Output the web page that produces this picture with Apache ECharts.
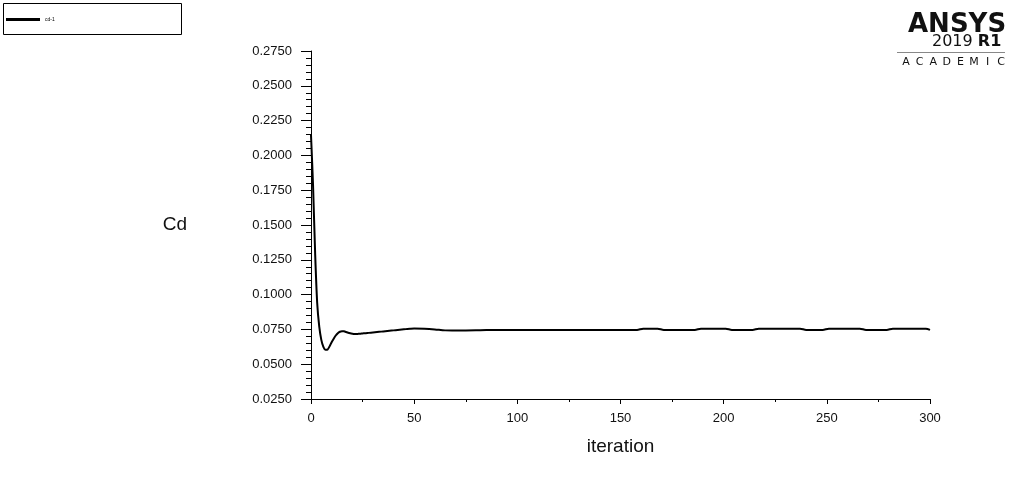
<!DOCTYPE html>
<html><head><meta charset="utf-8">
<script src="https://cdn.jsdelivr.net/npm/echarts@6/dist/echarts.min.js"></script>
<style>html,body{margin:0;padding:0;background:#fff}#c{width:1035px;height:499px}</style>
</head><body><div id="c"></div>
<script>
const seriesName = 'cd-1';
const iterations = [0,1,2,3,4,5,6,7,8,9,10,11,12,13,14,15,16,17,18,19,20,21,22,23,24,25,26,28,30,32,34,36,38,40,42,44,46,48,50,55,60,65,70,75,80,85,90,100,110,120,130,140,150,158,161,168,171,186,189,201,204,214,217,237,240,248,251,266,269,279,282,298,300];
const cdValues = [0.2147,0.178,0.130,0.094,0.077,0.0675,0.0625,0.0603,0.0605,0.0628,0.0658,0.0683,0.0706,0.0723,0.0733,0.0737,0.0736,0.0731,0.0726,0.0722,0.0719,0.0717,0.0717,0.0718,0.0719,0.0721,0.0722,0.0725,0.0728,0.0731,0.0734,0.0737,0.0740,0.0743,0.0746,0.0749,0.0752,0.0755,0.0757,0.0755,0.0750,0.0743,0.0742,0.0742,0.0743,0.0746,0.0746,0.0746,0.0746,0.0746,0.0746,0.0746,0.0746,0.0746,0.0755,0.0755,0.0746,0.0746,0.0755,0.0755,0.0746,0.0746,0.0755,0.0755,0.0746,0.0746,0.0755,0.0755,0.0746,0.0746,0.0755,0.0755,0.0746];
const xTicks = {min:0, max:300, interval:50};
const yTicks = {min:0.025, max:0.275, interval:0.025};
const logoSub = 'ACADEMIC';

const chart = echarts.init(document.getElementById('c'));
const font = 'Liberation Sans, Arial, sans-serif';
const letters = logoSub.split('').map((ch,i)=>({type:'text', x:906 + i*13.6, y:57,
  style:{text:ch, font:'11px "DejaVu Sans", sans-serif', fill:'#111', textAlign:'center', textVerticalAlign:'top'}}));
chart.setOption({
  animation:false,
  backgroundColor:'#fff',
  grid:{left:311, right:105, top:51, bottom:100, containLabel:false},
  legend:{left:1, top:12, itemWidth:34, itemHeight:3, itemGap:2,
    data:[{name:seriesName, icon:'rect'}],
    textStyle:{fontSize:5, color:'#000', fontFamily:font}},
  graphic:[
    {type:'rect', left:1, top:1, shape:{width:178, height:31}, style:{fill:'none', stroke:'#000', lineWidth:1}, silent:true},
    {type:'text', left:908, top:12, style:{text:'ANSYS', font:'bold 26px "DejaVu Sans", sans-serif', fill:'#111'}},
    {type:'text', left:932, top:34, style:{text:'{a|2019 }{b|R1}', rich:{
      a:{font:'16px "DejaVu Sans", sans-serif', fill:'#111', color:'#111'},
      b:{font:'bold 16px "DejaVu Sans", sans-serif', fill:'#111', color:'#111'}}}},
    {type:'rect', left:897, top:52, shape:{width:108, height:1}, style:{fill:'#888'}},
    ...letters
  ],
  xAxis:{type:'value', min:xTicks.min, max:xTicks.max, interval:xTicks.interval,
    name:'iteration', nameLocation:'middle', nameGap:38,
    nameTextStyle:{fontSize:19, color:'#111', fontFamily:font},
    axisLine:{lineStyle:{color:'#000', width:1}},
    axisTick:{length:5, lineStyle:{color:'#000'}},
    minorTick:{show:true, splitNumber:2, length:3, lineStyle:{color:'#000'}},
    axisLabel:{fontSize:13, color:'#111', fontFamily:font, margin:13},
    splitLine:{show:false}},
  yAxis:{type:'value', min:yTicks.min, max:yTicks.max, interval:yTicks.interval,
    name:'Cd', nameLocation:'middle', nameGap:124, nameRotate:0,
    nameTextStyle:{fontSize:19, color:'#111', fontFamily:font},
    axisLine:{show:true, lineStyle:{color:'#000', width:1}},
    axisTick:{show:true, length:10, lineStyle:{color:'#000'}},
    minorTick:{show:true, splitNumber:5, length:5, lineStyle:{color:'#000'}},
    axisLabel:{fontSize:13, color:'#111', fontFamily:font, margin:19, formatter:v=>v.toFixed(4)},
    splitLine:{show:false}},
  series:[{name:seriesName, type:'line', showSymbol:false, smooth:0.3,
    data:iterations.map((x,i)=>[x,cdValues[i]]),
    lineStyle:{color:'#000', width:2}, itemStyle:{color:'#000'}}]
});
</script></body></html>
